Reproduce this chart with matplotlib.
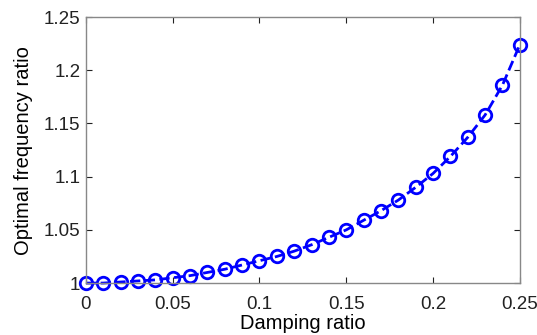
import numpy as np
import matplotlib
matplotlib.use('Agg')
import matplotlib.pyplot as plt

plt.rcParams['font.family'] = ['Liberation Sans', 'DejaVu Sans']

damping = [0.00, 0.01, 0.02, 0.03, 0.04, 0.05, 0.06, 0.07, 0.08, 0.09,
           0.10, 0.11, 0.12, 0.13, 0.14, 0.15, 0.16, 0.17, 0.18, 0.19,
           0.20, 0.21, 0.22, 0.23, 0.24, 0.25]
freq_ratio = [1.000, 1.000, 1.001, 1.002, 1.003, 1.005, 1.007, 1.010, 1.013, 1.017,
              1.021, 1.025, 1.030, 1.036, 1.043, 1.050, 1.059, 1.068, 1.078, 1.090,
              1.103, 1.119, 1.137, 1.158, 1.186, 1.224]
xticks = [0, 0.05, 0.1, 0.15, 0.2, 0.25]
xtick_labels = ['0', '0.05', '0.1', '0.15', '0.2', '0.25']
yticks = [1, 1.05, 1.1, 1.15, 1.2, 1.25]
ytick_labels = ['1', '1.05', '1.1', '1.15', '1.2', '1.25']

fig = plt.figure(figsize=(5.37, 3.35), dpi=100)
ax = fig.add_axes([0.160, 0.155, 0.808, 0.794])

ax.plot(damping, freq_ratio, 'o--', color='#0000ff', lw=2,
        markersize=9, markerfacecolor='none', markeredgewidth=2, clip_on=False)

ax.set_xlim(0, 0.25)
ax.set_ylim(1, 1.25)
ax.set_xticks(xticks)
ax.set_xticklabels(xtick_labels)
ax.set_yticks(yticks)
ax.set_yticklabels(ytick_labels)
ax.tick_params(direction='in', length=4, labelsize=13.5, colors='#222222',
               top=True, right=True, pad=4)
ax.tick_params(axis='x', pad=9)
for s in ax.spines.values():
    s.set_color('#888888')
    s.set_linewidth(1)

ax.set_xlabel('Damping ratio', fontsize=14.5, labelpad=1)
ax.set_ylabel('Optimal frequency ratio', fontsize=14.5, labelpad=8)

fig.savefig('out.png', dpi=100)
